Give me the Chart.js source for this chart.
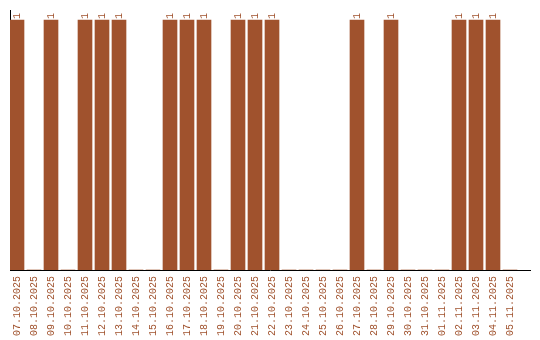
<!DOCTYPE html>
<html>
<head>
<meta charset="utf-8">
<script src="https://cdn.jsdelivr.net/npm/chart.js@4"></script>
<style>
  html, body { margin: 0; padding: 0; background: #fff; }
  #wrap { width: 540px; height: 340px; }
</style>
</head>
<body>
<div id="wrap"><canvas id="chart" width="540" height="340"></canvas></div>
<script>
const dates = [
  '07.10.2025', '08.10.2025', '09.10.2025', '10.10.2025', '11.10.2025',
  '12.10.2025', '13.10.2025', '14.10.2025', '15.10.2025', '16.10.2025',
  '17.10.2025', '18.10.2025', '19.10.2025', '20.10.2025', '21.10.2025',
  '22.10.2025', '23.10.2025', '24.10.2025', '25.10.2025', '26.10.2025',
  '27.10.2025', '28.10.2025', '29.10.2025', '30.10.2025', '31.10.2025',
  '01.11.2025', '02.11.2025', '03.11.2025', '04.11.2025', '05.11.2025',
];
const counts = [
  1, 0, 1, 0, 1,
  1, 1, 0, 0, 1,
  1, 1, 0, 1, 1,
  1, 0, 0, 0, 0,
  1, 0, 1, 0, 0,
  0, 1, 1, 1, 0,
];

const barColor = '#a0522d';
const monoFont = '"Liberation Mono", monospace';

// write the value above each non-empty bar, rotated like the date labels
const valueLabels = {
  id: 'valueLabels',
  afterDatasetsDraw(chart) {
    const ctx = chart.ctx;
    const meta = chart.getDatasetMeta(0);
    ctx.save();
    ctx.font = '10px ' + monoFont;
    ctx.fillStyle = barColor;
    ctx.textAlign = 'left';
    ctx.textBaseline = 'middle';
    meta.data.forEach((bar, i) => {
      if (!counts[i]) return;
      ctx.save();
      ctx.translate(bar.x, bar.y - 1);
      ctx.rotate(-Math.PI / 2);
      ctx.fillText(String(counts[i]), 0, 0);
      ctx.restore();
    });
    ctx.restore();
  },
};

const points = counts.map((v, i) => ({ x: i, y: v }));

new Chart(document.getElementById('chart'), {
  type: 'bar',
  data: {
    datasets: [{
      data: points,
      backgroundColor: barColor,
      borderWidth: 0,
      barThickness: 14,
    }],
  },
  options: {
    responsive: false,
    animation: false,
    layout: { padding: { left: 10, top: 10, right: 10, bottom: 0 } },
    plugins: {
      legend: { display: false },
      tooltip: { enabled: false },
    },
    scales: {
      x: {
        type: 'linear',
        offset: false,
        min: -7 / 17,
        max: 520 / 17 - 7 / 17,
        grid: { display: false, drawTicks: false },
        border: { display: true, color: '#000', width: 1 },
        afterBuildTicks(scale) {
          scale.ticks = dates.map((_, i) => ({ value: i }));
        },
        afterFit(scale) { scale.height = 70; },
        ticks: {
          autoSkip: false,
          minRotation: 90,
          maxRotation: 90,
          padding: 6,
          color: barColor,
          font: { family: monoFont, size: 10 },
          callback: (value) => dates[value],
        },
      },
      y: {
        min: 0,
        max: 1.04,
        grid: { display: false, drawTicks: false },
        border: { display: true, color: '#000', width: 1 },
        ticks: { display: false },
        afterFit(scale) { scale.width = 0; },
      },
    },
  },
  plugins: [valueLabels],
});
</script>
</body>
</html>
